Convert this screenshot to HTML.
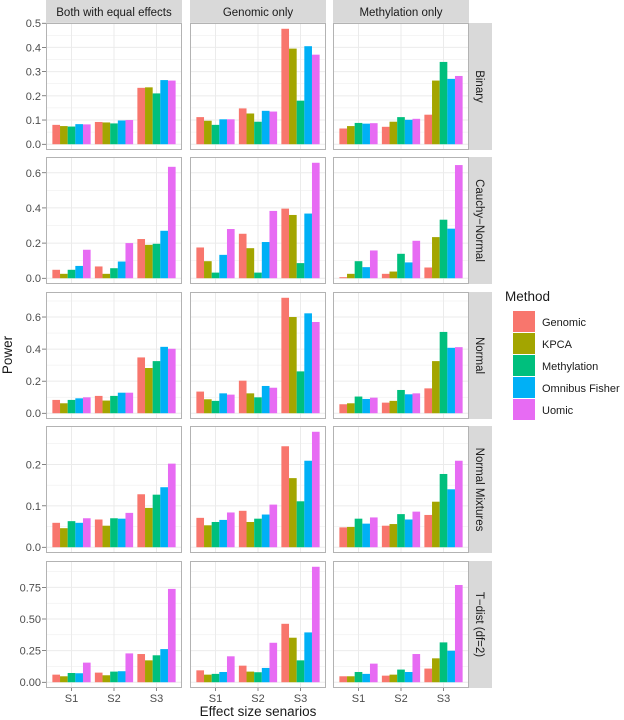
<!DOCTYPE html>
<html><head><meta charset="utf-8"><style>
body{margin:0;background:#fff;font-family:"Liberation Sans",sans-serif}
svg{display:block}
</style></head><body>
<svg id="c" width="624" height="720" xmlns="http://www.w3.org/2000/svg"></svg>
<script>
const categories=["S1","S2","S3"];
const methods=["Genomic","KPCA","Methylation","Omnibus Fisher","Uomic"];
const colors=["#F8766D","#A3A500","#00BF7D","#00B0F6","#E76BF3"];
const colFacets=["Both with equal effects","Genomic only","Methylation only"];
const rowFacets=["Binary","Cauchy\u2212Normal","Normal","Normal Mixtures","T\u2212dist (df=2)"];
const binaryVals=[
 [[.08,.075,.073,.083,.082],[.092,.09,.086,.098,.1],[.233,.235,.21,.265,.263]],
 [[.112,.097,.08,.103,.103],[.148,.127,.093,.138,.135],[.477,.395,.18,.405,.37]],
 [[.065,.075,.088,.085,.087],[.072,.093,.112,.101,.105],[.122,.263,.34,.27,.282]]];
const cauchyVals=[
 [[.048,.025,.048,.07,.162],[.067,.025,.057,.095,.2],[.223,.19,.196,.27,.634]],
 [[.175,.097,.032,.133,.28],[.253,.171,.032,.206,.383],[.396,.36,.086,.368,.657]],
 [[.006,.025,.097,.063,.158],[.025,.038,.139,.09,.213],[.061,.234,.333,.282,.644]]];
const normalVals=[
 [[.083,.062,.083,.093,.099],[.108,.079,.108,.128,.128],[.348,.282,.325,.414,.402]],
 [[.135,.087,.077,.124,.116],[.203,.124,.099,.17,.159],[.72,.6,.261,.623,.569]],
 [[.056,.062,.104,.089,.097],[.066,.077,.145,.118,.124],[.155,.325,.507,.408,.412]]];
const mixVals=[
 [[.059,.046,.063,.059,.07],[.067,.052,.07,.069,.083],[.128,.095,.127,.145,.202]],
 [[.071,.053,.061,.066,.084],[.088,.061,.069,.079,.103],[.244,.167,.111,.209,.279]],
 [[.048,.049,.069,.057,.072],[.052,.056,.08,.067,.086],[.078,.11,.177,.14,.209]]];
const tdistVals=[
 [[.06,.047,.073,.071,.155],[.076,.055,.084,.087,.228],[.223,.173,.213,.262,.738]],
 [[.094,.06,.066,.081,.205],[.131,.084,.079,.113,.312],[.462,.352,.173,.394,.913]],
 [[.047,.047,.081,.066,.147],[.052,.06,.1,.081,.223],[.108,.189,.315,.249,.769]]];
const rowData=[binaryVals,cauchyVals,normalVals,mixVals,tdistVals];
const tickVals=[[0,.1,.2,.3,.4,.5],[0,.2,.4,.6],[0,.2,.4,.6],[0,.1,.2],[0,.25,.5,.75]];
const tickLabels=[["0.0","0.1","0.2","0.3","0.4","0.5"],["0.0","0.2","0.4","0.6"],["0.0","0.2","0.4","0.6"],["0.0","0.1","0.2"],["0.00","0.25","0.50","0.75"]];

const svg=document.getElementById('c');
const NS="http://www.w3.org/2000/svg";
function mk(t,a,p){const e=document.createElementNS(NS,t);for(const k in a)e.setAttribute(k,a[k]);(p||svg).appendChild(e);return e;}
const colX=[46,190,333],PW=136;
const rowY=[23,157,292,426,561],PH=127;

colFacets.forEach((f,ci)=>{
 const r=mk('rect',{x:colX[ci],y:0,width:PW,height:23,fill:'#D9D9D9'});
 
 
 const t=mk('text',{x:colX[ci]+PW/2,y:16,'text-anchor':'middle','font-size':'11.5',fill:'#1A1A1A'});t.textContent=f;
 
 
});

rowFacets.forEach((rf,ri)=>{
 const y0=rowY[ri];
 const data=rowData[ri];
 let mx=0;data.forEach(c=>c.forEach(g=>g.forEach(v=>{if(v>mx)mx=v;})));
 const lo=-mx*0.05,hi=mx*1.05;
 const yS=v=>y0+PH-(v-lo)/(hi-lo)*PH;
 const st=mk('rect',{x:469,y:y0,width:23,height:PH,fill:'#D9D9D9'});
 
 
 const sl=mk('text',{x:0,y:0,transform:`translate(476,${y0+PH/2}) rotate(90)`,'text-anchor':'middle','font-size':'11.5',fill:'#1A1A1A'});sl.textContent=rf;
 
 
 const tv=tickVals[ri];
 tv.forEach((v,ti)=>{
  const lb=mk('text',{x:41,y:yS(v)+4,'text-anchor':'end','font-size':'11',fill:'#4D4D4D'});lb.textContent=tickLabels[ri][ti];
  
  
  mk('line',{x1:42,x2:46,y1:yS(v),y2:yS(v),stroke:'#333','stroke-width':0.6});
 });
 colX.forEach((cx,ci)=>{
  const g=mk('g',{});
  
  
  mk('rect',{x:cx,y:y0,width:PW,height:PH,fill:'#fff'},g);
  const step=tv[1]-tv[0];
  for(let m=tv[0]-step/2;m<=hi;m+=step/2){if(m<lo)continue;mk('line',{x1:cx,x2:cx+PW,y1:yS(m),y2:yS(m),stroke:'#EBEBEB','stroke-width':Math.abs(Math.round(m/step)*step-m)<1e-9?1:0.5},g);}
  const xu=PW/3.2;
  const xS=i=>cx+(i+0.6)*xu;
  categories.forEach((c,k)=>mk('line',{x1:xS(k),x2:xS(k),y1:y0,y2:y0+PH,stroke:'#EBEBEB','stroke-width':1},g));
  const bw=0.9*xu/5;
  data[ci].forEach((grp,k)=>{
   grp.forEach((v,m)=>{
    const b=mk('rect',{x:xS(k)-0.45*xu+m*bw,y:yS(v),width:bw,height:yS(0)-yS(v),fill:colors[m]},g);
    
    
   });
  });
  mk('rect',{x:cx+.5,y:y0+.5,width:PW-1,height:PH-1,fill:'none',stroke:'#B3B3B3','stroke-width':1},g);
  if(ri===4){categories.forEach((c,k)=>{
   mk('line',{x1:xS(k),x2:xS(k),y1:y0+PH,y2:y0+PH+3,stroke:'#333','stroke-width':0.6});
   const t=mk('text',{x:xS(k),y:y0+PH+14,'text-anchor':'middle','font-size':'11',fill:'#4D4D4D'});t.textContent=c;
   
   
  });}
 });
});
const xt=mk('text',{x:258,y:716,'text-anchor':'middle','font-size':'13.5',fill:'#1A1A1A'});xt.textContent='Effect size senarios';


const yt=mk('text',{x:0,y:0,transform:'translate(12,355) rotate(-90)','text-anchor':'middle','font-size':'13.5',fill:'#1A1A1A'});yt.textContent='Power';


const lt=mk('text',{x:505,y:301,'font-size':'13.5',fill:'#1A1A1A'});lt.textContent='Method';


methods.forEach((m,i)=>{
 const k=mk('rect',{x:513,y:311+i*22,width:22,height:21,fill:colors[i]});
 
 
 const t=mk('text',{x:542,y:326+i*22,'font-size':'11',fill:'#1A1A1A'});t.textContent=m;
 
 
});
</script>
</body></html>
